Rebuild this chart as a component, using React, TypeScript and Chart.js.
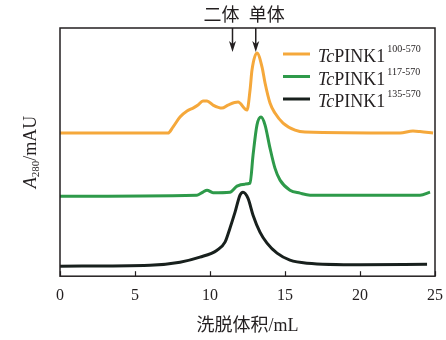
import React, { useEffect, useRef } from "react";
import { Chart, registerables } from "chart.js";

Chart.register(...registerables);

// ---- data (y in arbitrary mAU units, traces offset) ----
const seriesNames = ["TcPINK1", "TcPINK1", "TcPINK1"];
const seriesRanges = ["100-570", "117-570", "135-570"];
const seriesColors = ["#F5A83B", "#2E9A4A", "#18201D"];

const orangeX = [0, 7.2, 7.53, 8.0, 8.47, 8.87, 9.2, 9.53, 9.8, 10.2, 10.8, 11.2, 11.87, 12.47, 12.67, 12.8, 13.13, 13.47, 13.67, 14.0, 14.33, 14.87, 15.67, 16.33, 22.67, 23.53, 24.0, 24.87];
const orangeY = [143, 143, 149, 159, 165, 168, 171, 175, 175, 171, 168, 171, 174, 166, 186, 206, 223, 209, 193, 173, 163, 153, 146, 144, 143, 145, 144.5, 143];

const greenX = [0, 9.13, 9.53, 9.8, 10.2, 11.33, 11.8, 12.33, 12.67, 12.87, 13.13, 13.4, 13.67, 14.0, 14.33, 14.67, 15.33, 16.0, 16.67, 24.0, 24.67];
const greenY = [80, 81, 84, 86, 83.5, 84, 90, 92, 93, 121, 151, 159, 151, 128, 108, 96, 86, 83, 81, 81, 84];

const blackX = [0, 6.0, 8.0, 9.33, 10.47, 11.0, 11.33, 11.67, 12.0, 12.2, 12.53, 12.87, 13.33, 13.8, 14.47, 15.33, 16.47, 20.0, 24.47];
const blackY = [10, 11, 14, 19, 26, 34, 48, 64, 81, 84, 78, 61, 44, 33, 23, 16, 13, 11.5, 12];

const xTicks = [0, 5, 10, 15, 20, 25];
const annotationLabels = ["二体", "单体"];
const annotationX = [11.5, 13.05];

const xTitle = "洗脱体积/mL";
const yTitleMain = "A";
const yTitleSub = "280";
const yTitleUnit = "/mAU";

const INK = "#231F20";
const SERIF = "'Liberation Serif', 'Noto Sans CJK SC', serif";
const CJK = "'Noto Sans CJK SC', sans-serif";

const toPoints = (xs: number[], ys: number[]) => xs.map((x, i) => ({ x, y: ys[i] }));

const decorPlugin = {
  id: "decor",
  afterDraw(chart: any) {
    const { ctx, chartArea: a } = chart;
    const xs = chart.scales.x;
    ctx.save();

    // frame
    ctx.strokeStyle = INK;
    ctx.lineWidth = 1.5;
    ctx.strokeRect(a.left, a.top, a.right - a.left, a.bottom - a.top);

    // inward ticks on the bottom axis
    ctx.lineWidth = 1.2;
    xTicks.forEach((v) => {
      const px = Math.round(xs.getPixelForValue(v)) + 0.5;
      ctx.beginPath();
      ctx.moveTo(px, a.bottom);
      ctx.lineTo(px, a.bottom - 5);
      ctx.stroke();
    });

    // annotation arrows + labels
    ctx.fillStyle = INK;
    ctx.strokeStyle = INK;
    annotationX.forEach((v, i) => {
      const px = xs.getPixelForValue(v);
      const tipY = a.top + 24;
      ctx.lineWidth = 1.5;
      ctx.beginPath();
      ctx.moveTo(px, a.top);
      ctx.lineTo(px, tipY - 8);
      ctx.stroke();
      ctx.beginPath();
      ctx.moveTo(px - 3.5, tipY - 11);
      ctx.lineTo(px, tipY - 8);
      ctx.lineTo(px + 3.5, tipY - 11);
      ctx.lineTo(px, tipY);
      ctx.closePath();
      ctx.fill();
      ctx.font = `18px ${CJK}`;
      ctx.textAlign = "center";
      ctx.textBaseline = "middle";
      ctx.fillText(annotationLabels[i], px + (i === 0 ? -11 : 11), 14);
    });

    // legend
    ctx.textAlign = "left";
    ctx.textBaseline = "alphabetic";
    seriesNames.forEach((name, i) => {
      const base = a.top + 34 + i * 22.5;
      ctx.strokeStyle = seriesColors[i];
      ctx.lineWidth = 3;
      ctx.beginPath();
      ctx.moveTo(a.right - 152, base - 8);
      ctx.lineTo(a.right - 125, base - 8);
      ctx.stroke();
      ctx.fillStyle = INK;
      let cx = a.right - 117;
      ctx.font = `italic 18px ${SERIF}`;
      ctx.fillText(name.slice(0, 2), cx, base);
      cx += ctx.measureText(name.slice(0, 2)).width;
      ctx.font = `18px ${SERIF}`;
      ctx.fillText(name.slice(2), cx, base);
      cx += ctx.measureText(name.slice(2)).width + 2;
      ctx.font = `10px ${SERIF}`;
      ctx.fillText(seriesRanges[i], cx, base - 10);
    });

    // y axis title (rotated)
    ctx.translate(36, (a.top + a.bottom) / 2);
    ctx.rotate(-Math.PI / 2);
    ctx.fillStyle = INK;
    ctx.font = `italic 18px ${SERIF}`;
    const w1 = ctx.measureText(yTitleMain).width;
    ctx.font = `11px ${SERIF}`;
    const w2 = ctx.measureText(yTitleSub).width;
    ctx.font = `18px ${SERIF}`;
    const w3 = ctx.measureText(yTitleUnit).width;
    let sx = -(w1 + w2 + w3) / 2;
    ctx.font = `italic 18px ${SERIF}`;
    ctx.fillText(yTitleMain, sx, 0);
    sx += w1;
    ctx.font = `11px ${SERIF}`;
    ctx.fillText(yTitleSub, sx, 3);
    sx += w2;
    ctx.font = `18px ${SERIF}`;
    ctx.fillText(yTitleUnit, sx, 0);

    ctx.restore();
  },
};

export default function App() {
  const ref = useRef<HTMLCanvasElement | null>(null);

  useEffect(() => {
    if (!ref.current) return;
    const series = [
      toPoints(orangeX, orangeY),
      toPoints(greenX, greenY),
      toPoints(blackX, blackY),
    ];
    const chart = new Chart(ref.current, {
      type: "line",
      data: {
        datasets: series.map((d, i) => ({
          label: seriesNames[i] + seriesRanges[i],
          data: d,
          borderColor: seriesColors[i],
          borderWidth: 3,
          pointRadius: 0,
          fill: false,
          cubicInterpolationMode: "monotone" as const,
        })),
      },
      options: {
        animation: false,
        responsive: false,
        devicePixelRatio: 1,
        layout: { padding: { left: 60, right: 11, top: 28, bottom: 0 } },
        plugins: { legend: { display: false }, tooltip: { enabled: false } },
        scales: {
          x: {
            type: "linear",
            min: 0,
            max: 25,
            afterBuildTicks: (s: any) => {
              s.ticks = xTicks.map((v) => ({ value: v }));
            },
            afterFit: (s: any) => {
              s.paddingLeft = 0;
              s.paddingRight = 0;
            },
            grid: { display: false, drawTicks: false },
            border: { display: false },
            ticks: {
              color: INK,
              padding: 10,
              maxRotation: 0,
              font: { family: SERIF, size: 16 },
            },
            title: {
              display: true,
              text: xTitle,
              color: INK,
              font: { family: SERIF, size: 18 },
              padding: { top: 0, bottom: 3 },
            },
          },
          y: { display: false, min: 0, max: 248 },
        },
      },
      plugins: [decorPlugin],
    });
    return () => chart.destroy();
  }, []);

  return (
    <div style={{ position: "absolute", left: 0, top: 0, width: 446, height: 340, background: "#fff" }}>
      <canvas ref={ref} width={446} height={340} />
    </div>
  );
}
